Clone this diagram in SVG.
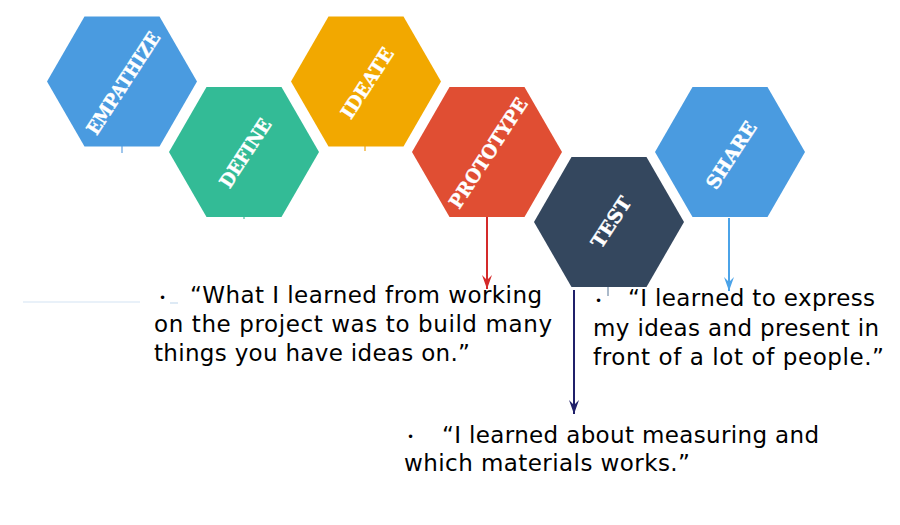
<svg xmlns="http://www.w3.org/2000/svg" width="900" height="525" viewBox="0 0 900 525">
  <defs>
    <style>
      .hexlabel { font-family: "DejaVu Serif", "Liberation Serif", serif; font-weight: bold; font-size: 19px; fill: #ffffff; stroke: #ffffff; stroke-width: 0.4; text-anchor: middle; }
      .quote { font-family: "DejaVu Sans", "Liberation Sans", sans-serif; font-size: 23px; fill: #000000; }
      .bullet { font-family: "DejaVu Sans", "Liberation Sans", sans-serif; font-size: 12px; fill: #000000; }
    </style>
    <polygon id="hex" points="-75,0 -37.5,-65 37.5,-65 75,0 37.5,65 -37.5,65"/>
    <marker id="arrRed" viewBox="0 0 14 10" refX="14" refY="5" markerWidth="14" markerHeight="10" markerUnits="userSpaceOnUse" orient="auto">
      <path d="M0,0 L5,5 L0,10 L14,5 Z" fill="#d42a2a"/>
    </marker>
    <marker id="arrBlue" viewBox="0 0 14 10" refX="14" refY="5" markerWidth="14" markerHeight="10" markerUnits="userSpaceOnUse" orient="auto">
      <path d="M0,0 L5,5 L0,10 L14,5 Z" fill="#4ba3e8"/>
    </marker>
    <marker id="arrNavy" viewBox="0 0 14 10" refX="14" refY="5" markerWidth="14" markerHeight="10" markerUnits="userSpaceOnUse" orient="auto">
      <path d="M0,0 L5,5 L0,10 L14,5 Z" fill="#20206a"/>
    </marker>
  </defs>
  <rect width="900" height="525" fill="#ffffff"/>

  <g id="connectors">
    <line x1="122" y1="146" x2="122" y2="153" stroke="#7fb3e6" stroke-width="1.5"/>
    <line x1="365" y1="146" x2="365" y2="151" stroke="#f2b640" stroke-width="1.5"/>
    <line x1="244" y1="216" x2="244" y2="219" stroke="#6ccab0" stroke-width="1.5"/>
    <line x1="608" y1="286" x2="608" y2="296" stroke="#8fa3b8" stroke-width="1.5"/>
    <line x1="487" y1="217" x2="487" y2="289" stroke="#d42a2a" stroke-width="2" marker-end="url(#arrRed)"/>
    <line x1="729" y1="218" x2="729" y2="291" stroke="#4ba3e8" stroke-width="2" marker-end="url(#arrBlue)"/>
    <line x1="574" y1="290" x2="574" y2="414" stroke="#20206a" stroke-width="2" marker-end="url(#arrNavy)"/>
    <line x1="23" y1="302" x2="140" y2="302" stroke="#d3e3f3" stroke-width="1.2"/>
    <line x1="170" y1="303" x2="178" y2="303" stroke="#c9dcef" stroke-width="1.2"/>
  </g>

  <g id="node-empathize">
    <use href="#hex" transform="translate(122,81.5)" fill="#4a9be0"/>
    <text class="hexlabel" transform="translate(123,83) rotate(-57)" x="0" y="7" textLength="118" lengthAdjust="spacingAndGlyphs">EMPATHIZE</text>
  </g>
  <g id="node-define">
    <use href="#hex" transform="translate(244,152)" fill="#33bb96"/>
    <text class="hexlabel" transform="translate(245,153) rotate(-57)" x="0" y="7" textLength="78" lengthAdjust="spacingAndGlyphs">DEFINE</text>
  </g>
  <g id="node-ideate">
    <use href="#hex" transform="translate(366,81.5)" fill="#f2a800"/>
    <text class="hexlabel" transform="translate(367,83) rotate(-57)" x="0" y="7" textLength="80" lengthAdjust="spacingAndGlyphs">IDEATE</text>
  </g>
  <g id="node-prototype">
    <use href="#hex" transform="translate(487,152)" fill="#e04e33"/>
    <text class="hexlabel" transform="translate(488,153) rotate(-57)" x="0" y="7" textLength="127" lengthAdjust="spacingAndGlyphs">PROTOTYPE</text>
  </g>
  <g id="node-test">
    <use href="#hex" transform="translate(609,222)" fill="#34475e"/>
    <text class="hexlabel" transform="translate(611,222) rotate(-57)" x="0" y="7" textLength="57" lengthAdjust="spacingAndGlyphs">TEST</text>
  </g>
  <g id="node-share">
    <use href="#hex" transform="translate(730,152)" fill="#4a9be0"/>
    <text class="hexlabel" transform="translate(731,155) rotate(-57)" x="0" y="7" textLength="76" lengthAdjust="spacingAndGlyphs">SHARE</text>
  </g>

  <g id="quote-prototype">
    <text class="bullet" x="159" y="302">•</text>
    <text class="quote" x="190" y="303" textLength="352" lengthAdjust="spacing">“What I learned from working</text>
    <text class="quote" x="154" y="332" textLength="398" lengthAdjust="spacing">on the project was to build many</text>
    <text class="quote" x="154" y="361" textLength="316" lengthAdjust="spacing">things you have ideas on.”</text>
  </g>
  <g id="quote-share">
    <text class="bullet" x="595" y="305">•</text>
    <text class="quote" x="628" y="306" textLength="247" lengthAdjust="spacing">“I learned to express</text>
    <text class="quote" x="593" y="335.5" textLength="286" lengthAdjust="spacing">my ideas and present in</text>
    <text class="quote" x="593" y="365" textLength="291" lengthAdjust="spacing">front of a lot of people.”</text>
  </g>
  <g id="quote-test">
    <text class="bullet" x="407" y="441">•</text>
    <text class="quote" x="442" y="443" textLength="377" lengthAdjust="spacing">“I learned about measuring and</text>
    <text class="quote" x="404" y="471" textLength="286" lengthAdjust="spacing">which materials works.”</text>
  </g>
</svg>
